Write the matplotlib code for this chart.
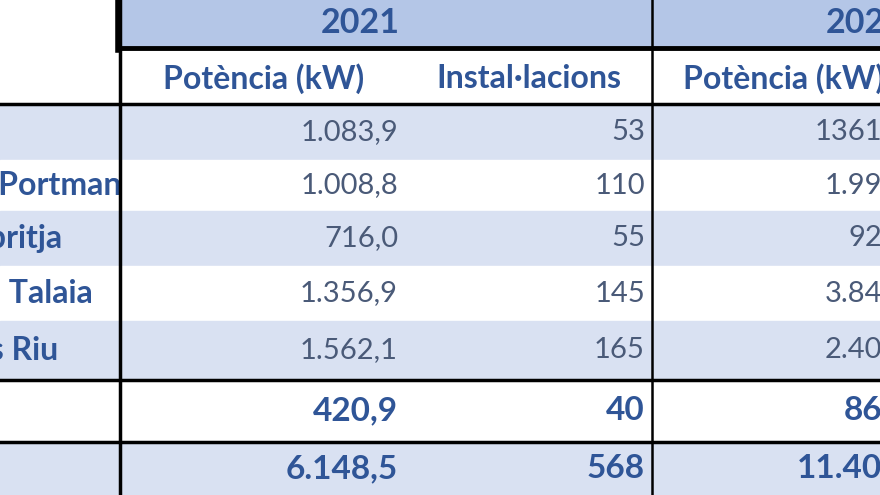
import matplotlib
matplotlib.use("Agg")
import matplotlib.pyplot as plt
from matplotlib.patches import Rectangle

years = ["2021", "2022"]
col_headers = ["Potència (kW)", "Instal·lacions", "Potència (kW)"]
row_labels = ["Eivissa", "Sant Antoni de Portmany", "Sant Joan de Labritja",
              "Sant Josep de sa Talaia", "Santa Eulària des Riu", "Formentera", "Total"]
power_2021 = ["1.083,9", "1.008,8", "716,0", "1.356,9", "1.562,1", "420,9", "6.148,5"]
inst_2021 = ["53", "110", "55", "145", "165", "40", "568"]
power_2022 = ["1361", "1.99", "92", "3.84", "2.40", "86", "11.40"]

W, H = 880, 495
fig = plt.figure(figsize=(8.8, 4.95), dpi=100)
ax = fig.add_axes([0, 0, 1, 1])
ax.set_xlim(0, W); ax.set_ylim(H, 0); ax.axis("off")

hdr_blue = "#b4c6e7"; light = "#d9e1f2"; txt_blue = "#2f5597"; val_col = "#4a5a78"
font = "Lato"

rows = [(104, 160), (160, 211), (211, 266), (266, 321), (321, 380), (380, 442), (442, 495)]
fills = [light, "white", light, "white", light, "white", light]
ax.add_patch(Rectangle((120, 0), W - 120, 48, color=hdr_blue, zorder=0))
for (y0, y1), f in zip(rows, fills):
    ax.add_patch(Rectangle((0, y0), 120, y1 - y0, color=f, zorder=0))
    ax.add_patch(Rectangle((120, y0), W - 120, y1 - y0, color=f, zorder=0.6))

ax.plot([120, W], [48, 48], color="black", lw=3.5, zorder=3)
for y in [104, 380, 442]:
    ax.plot([0, W], [y, y], color="black", lw=2.5, zorder=3)
ax.plot([120, 120], [0, H], color="black", lw=2.5, zorder=3)
ax.plot([118, 118], [0, 50], color="black", lw=4, zorder=3)
ax.plot([652, 652], [0, H], color="black", lw=1.8, zorder=3)

hkw = dict(va="center", fontweight="bold", color=txt_blue, family=font, zorder=2)
ax.text(360, 23, years[0], ha="center", fontsize=24.5, **hkw)
ax.text(905, 23, years[1], ha="right", fontsize=24.5, **hkw)
ax.text(264, 79, col_headers[0], ha="center", fontsize=23, **hkw)
ax.text(529, 79, col_headers[1], ha="center", fontsize=23, **hkw)
ax.text(683, 79, col_headers[2], ha="left", fontsize=23, **hkw)

label_right = [-20, 138, 62, 93, 58, -20, -20]
for i, ((y0, y1), lab) in enumerate(zip(rows, row_labels)):
    yc = (y0 + y1) / 2
    bold = i >= 5
    ax.text(label_right[i], yc, lab, ha="right", va="center", fontsize=23, fontweight="bold",
            color=txt_blue, family=font, zorder=0.5)
    kw = dict(va="center", family=font, fontsize=24 if bold else 21, zorder=2,
              fontweight="bold" if bold else "normal", color=txt_blue if bold else val_col)
    ax.text(398, yc, power_2021[i], ha="right", **kw)
    ax.text(645, yc, inst_2021[i], ha="right", **kw)
    ax.text(882, yc, power_2022[i], ha="right", **kw)

fig.savefig("out.png", dpi=100)
